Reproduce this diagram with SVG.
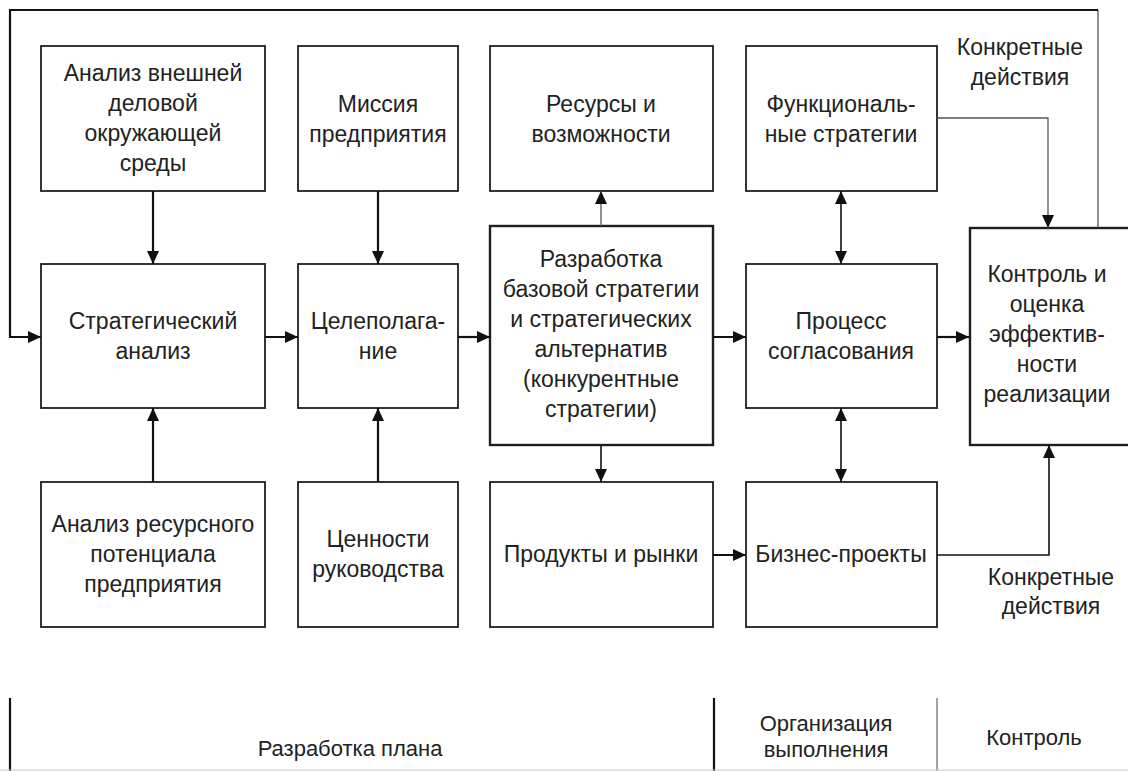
<svg xmlns="http://www.w3.org/2000/svg" width="1128" height="771" viewBox="0 0 1128 771">
<style>
.box{fill:#fff;stroke:#1e1e1e;stroke-width:1.8}
.t{font-family:"Liberation Sans",Arial,sans-serif;font-size:23px;fill:#222;text-anchor:middle}
.c{fill:none;stroke:#111;stroke-width:2.2}
.thin{fill:none;stroke:#555;stroke-width:1.3}
.sep{stroke:#111;stroke-width:2.2}
.septhin{stroke:#666;stroke-width:1.2}
</style>
<defs>
<marker id="ah" markerUnits="userSpaceOnUse" markerWidth="14" markerHeight="12" viewBox="0 0 14 12" refX="13" refY="6" orient="auto-start-reverse">
<path d="M0,0 L13,6 L0,12 Z" fill="#111"/>
</marker>
</defs>
<rect width="1128" height="771" fill="#fff"/>

<g id="n1"><rect class="box" x="41" y="46" width="224" height="145"/>
<text class="t" x="153" y="81"><tspan x="153">Анализ внешней</tspan><tspan x="153" dy="30">деловой</tspan><tspan x="153" dy="30">окружающей</tspan><tspan x="153" dy="30">среды</tspan></text></g>
<g id="n2"><rect class="box" x="298" y="46" width="160" height="145"/>
<text class="t" x="378" y="112"><tspan x="378">Миссия</tspan><tspan x="378" dy="30">предприятия</tspan></text></g>
<g id="n3"><rect class="box" x="490" y="46" width="223" height="145"/>
<text class="t" x="601" y="112"><tspan x="601">Ресурсы и</tspan><tspan x="601" dy="30">возможности</tspan></text></g>
<g id="n4"><rect class="box" x="746" y="46" width="191" height="145"/>
<text class="t" x="841" y="112"><tspan x="841">Функциональ-</tspan><tspan x="841" dy="30">ные стратегии</tspan></text></g>
<g id="n5"><rect class="box" x="41" y="264" width="224" height="144"/>
<text class="t" x="153" y="329"><tspan x="153">Стратегический</tspan><tspan x="153" dy="30">анализ</tspan></text></g>
<g id="n6"><rect class="box" x="298" y="264" width="160" height="144"/>
<text class="t" x="378" y="329"><tspan x="378">Целеполага-</tspan><tspan x="378" dy="30">ние</tspan></text></g>
<g id="n7"><rect class="box" x="490" y="226" width="223" height="219" style="stroke-width:2.4"/>
<text class="t" x="601" y="267"><tspan x="601">Разработка</tspan><tspan x="601" dy="30">базовой стратегии</tspan><tspan x="601" dy="30">и стратегических</tspan><tspan x="601" dy="30">альтернатив</tspan><tspan x="601" dy="30">(конкурентные</tspan><tspan x="601" dy="30">стратегии)</tspan></text></g>
<g id="n8"><rect class="box" x="746" y="264" width="191" height="144"/>
<text class="t" x="841" y="329"><tspan x="841">Процесс</tspan><tspan x="841" dy="30">согласования</tspan></text></g>
<g id="n9"><rect class="box" x="970" y="228" width="162" height="217" style="stroke-width:2.4"/>
<text class="t" x="1047" y="282"><tspan x="1047">Контроль и</tspan><tspan x="1047" dy="30">оценка</tspan><tspan x="1047" dy="30">эффектив-</tspan><tspan x="1047" dy="30">ности</tspan><tspan x="1047" dy="30">реализации</tspan></text></g>
<g id="n10"><rect class="box" x="41" y="482" width="224" height="145"/>
<text class="t" x="153" y="532"><tspan x="153">Анализ ресурсного</tspan><tspan x="153" dy="30">потенциала</tspan><tspan x="153" dy="30">предприятия</tspan></text></g>
<g id="n11"><rect class="box" x="298" y="482" width="160" height="145"/>
<text class="t" x="378" y="547"><tspan x="378">Ценности</tspan><tspan x="378" dy="30">руководства</tspan></text></g>
<g id="n12"><rect class="box" x="490" y="482" width="223" height="145"/>
<text class="t" x="601" y="562">Продукты и рынки</text></g>
<g id="n13"><rect class="box" x="746" y="482" width="191" height="145"/>
<text class="t" x="841" y="562">Бизнес-проекты</text></g>

<g id="connectors">
<path class="thin" d="M1098,228 V10"/>
<path class="c" d="M1098,10 H10 V337 H41" marker-end="url(#ah)"/>
<path class="c" d="M153,191 V264" marker-end="url(#ah)"/>
<path class="c" d="M378,191 V264" marker-end="url(#ah)"/>
<path class="c" d="M153,482 V408" marker-end="url(#ah)"/>
<path class="c" d="M378,482 V408" marker-end="url(#ah)"/>
<path class="c" d="M265,337 H298" marker-end="url(#ah)"/>
<path class="c" d="M458,337 H490" marker-end="url(#ah)"/>
<path class="c" d="M713,337 H746" marker-end="url(#ah)"/>
<path class="c" d="M937,337 H969" marker-end="url(#ah)"/>
<path class="thin" d="M601,226 V191" marker-end="url(#ah)"/>
<path class="c" d="M601,445 V482" style="stroke-width:1.6" marker-end="url(#ah)"/>
<path class="c" d="M841,191 V264" style="stroke-width:1.6" marker-start="url(#ah)" marker-end="url(#ah)"/>
<path class="c" d="M841,408 V482" style="stroke-width:1.6" marker-start="url(#ah)" marker-end="url(#ah)"/>
<path class="c" d="M713,555 H746" marker-end="url(#ah)"/>
<path class="c" d="M937,555 H1049 V445" style="stroke-width:1.6" marker-end="url(#ah)"/>
<path class="thin" d="M937,118 H1048 V228" marker-end="url(#ah)"/>
</g>

<g id="labels">
<text class="t" x="1020" y="55"><tspan x="1020">Конкретные</tspan><tspan x="1020" dy="30">действия</tspan></text>
<text class="t" x="1051" y="585"><tspan x="1051">Конкретные</tspan><tspan x="1051" dy="29">действия</tspan></text>
</g>

<g id="phases">
<line class="sep" x1="10" y1="698" x2="10" y2="771"/>
<line class="sep" x1="714" y1="698" x2="714" y2="771"/>
<line class="septhin" x1="937" y1="698" x2="937" y2="771"/>
<line x1="0" y1="770" x2="1128" y2="770" stroke="#ccc" stroke-width="1"/>
<text class="t" x="350" y="756" style="font-size:22px">Разработка плана</text>
<text class="t" x="826" y="731" style="font-size:22px"><tspan x="826">Организация</tspan><tspan x="826" dy="26">выполнения</tspan></text>
<text class="t" x="1034" y="745" style="font-size:22px">Контроль</text>
</g>
</svg>
